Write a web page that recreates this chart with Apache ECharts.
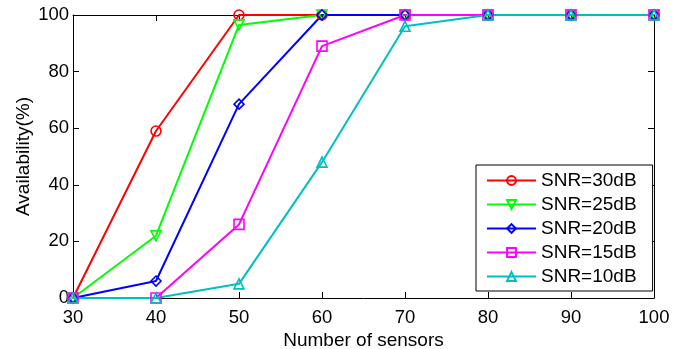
<!DOCTYPE html>
<html>
<head>
<meta charset="utf-8">
<script src="https://cdn.jsdelivr.net/npm/echarts@6/dist/echarts.min.js"></script>
<style>
html, body { margin: 0; padding: 0; background: #fff; }
#chart { width: 694px; height: 349px; }
</style>
</head>
<body>
<div id="chart"></div>
<script>
var sensors = [30, 40, 50, 60, 70, 80, 90, 100];
var snr30 = [0, 59, 100, 100, 100, 100, 100, 100];
var snr25 = [0, 22, 96.5, 100, 100, 100, 100, 100];
var snr20 = [0, 6, 68.5, 100, 100, 100, 100, 100];
var snr15 = [0, 0, 26, 89, 100, 100, 100, 100];
var snr10 = [0, 0, 5, 48, 96, 100, 100, 100];

var font = 'Liberation Sans, Arial, sans-serif';

function pairs(ys) {
    return sensors.map(function (x, i) { return [x, ys[i]]; });
}

function makeSeries(name, ys, color, symbol) {
    return {
        name: name,
        type: 'line',
        data: pairs(ys),
        symbol: symbol,
        symbolSize: 10,
        showAllSymbol: true,
        clip: false,
        lineStyle: { color: color, width: 2 },
        itemStyle: { color: 'rgba(255,255,255,0)', borderColor: color, borderWidth: 1.6 },
        emphasis: { disabled: true }
    };
}

var option = {
    animation: false,
    textStyle: { fontFamily: font },
    grid: [{ left: 73, right: 40, top: 15, bottom: 51, containLabel: false, outerBoundsMode: 'none' }],
    legend: {
        left: 476,
        top: 165,
        orient: 'vertical',
        backgroundColor: '#fff',
        borderColor: '#000',
        borderWidth: 1,
        padding: [6, 16, 5, 10],
        itemWidth: 49,
        itemHeight: 11,
        itemGap: 5,
        textStyle: { fontSize: 19, lineHeight: 19, color: '#000', fontFamily: font },
        data: ['SNR=30dB', 'SNR=25dB', 'SNR=20dB', 'SNR=15dB', 'SNR=10dB']
    },
    xAxis: [{
        type: 'value', min: 30, max: 100, interval: 10,
        name: 'Number of sensors', nameLocation: 'middle', nameGap: 33,
        nameMoveOverlap: false,
        nameTextStyle: { fontSize: 19, color: '#000' },
        axisLine: { show: true, onZero: false, lineStyle: { color: '#000', width: 1 } },
        axisTick: { inside: true, length: 6, lineStyle: { color: '#000' } },
        axisLabel: { fontSize: 18.5, color: '#000', margin: 10 },
        splitLine: { show: false }
    }, {
        type: 'value', min: 30, max: 100, interval: 10, position: 'top',
        axisLine: { show: true, onZero: false, lineStyle: { color: '#000', width: 1 } },
        axisTick: { inside: true, length: 6, lineStyle: { color: '#000' } },
        axisLabel: { show: false },
        splitLine: { show: false }
    }],
    yAxis: [{
        type: 'value', min: 0, max: 100, interval: 20,
        name: 'Availability(%)', nameLocation: 'middle', nameGap: 40,
        nameMoveOverlap: false,
        nameTextStyle: { fontSize: 19, color: '#000' },
        axisLine: { show: true, onZero: false, lineStyle: { color: '#000', width: 1 } },
        axisTick: { inside: true, length: 6, lineStyle: { color: '#000' } },
        axisLabel: { fontSize: 18.5, color: '#000', margin: 4 },
        splitLine: { show: false }
    }, {
        type: 'value', min: 0, max: 100, interval: 20, position: 'right',
        axisLine: { show: true, onZero: false, lineStyle: { color: '#000', width: 1 } },
        axisTick: { inside: true, length: 6, lineStyle: { color: '#000' } },
        axisLabel: { show: false },
        splitLine: { show: false }
    }],
    series: [
        makeSeries('SNR=30dB', snr30, '#ff0000', 'circle'),
        makeSeries('SNR=25dB', snr25, '#00ff00', 'path://M0,0 L10,0 L5,9 Z'),
        makeSeries('SNR=20dB', snr20, '#0000ff', 'diamond'),
        makeSeries('SNR=15dB', snr15, '#ff00ff', 'rect'),
        makeSeries('SNR=10dB', snr10, '#00bfbf', 'triangle')
    ]
};

var chart = echarts.init(document.getElementById('chart'));
chart.setOption(option);
</script>
</body>
</html>
